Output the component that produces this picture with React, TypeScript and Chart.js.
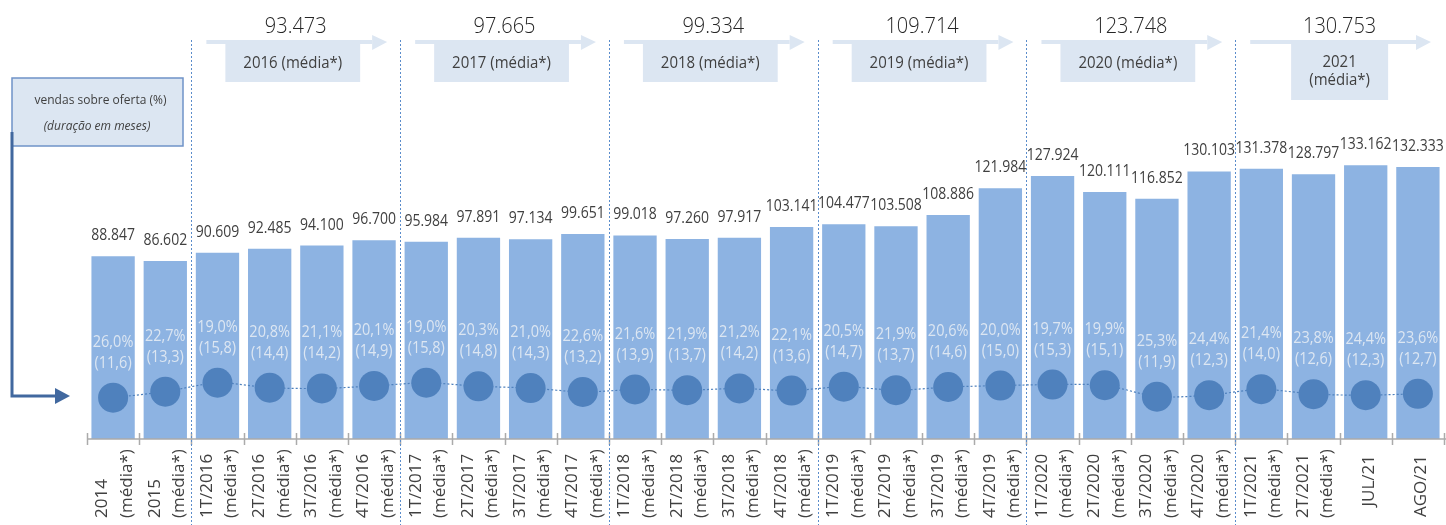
import { useEffect, useRef } from "react";
import { Chart, registerables } from "chart.js";

Chart.register(...registerables);

// ---------- data ----------
const categories: string[][] = [
  ["2014", "(média*)"],
  ["2015", "(média*)"],
  ["1T/2016", "(média*)"],
  ["2T/2016", "(média*)"],
  ["3T/2016", "(média*)"],
  ["4T/2016", "(média*)"],
  ["1T/2017", "(média*)"],
  ["2T/2017", "(média*)"],
  ["3T/2017", "(média*)"],
  ["4T/2017", "(média*)"],
  ["1T/2018", "(média*)"],
  ["2T/2018", "(média*)"],
  ["3T/2018", "(média*)"],
  ["4T/2018", "(média*)"],
  ["1T/2019", "(média*)"],
  ["2T/2019", "(média*)"],
  ["3T/2019", "(média*)"],
  ["4T/2019", "(média*)"],
  ["1T/2020", "(média*)"],
  ["2T/2020", "(média*)"],
  ["3T/2020", "(média*)"],
  ["4T/2020", "(média*)"],
  ["1T/2021", "(média*)"],
  ["2T/2021", "(média*)"],
  ["JUL/21"],
  ["AGO/21"],
];

const sales: number[] = [
  88847, 86602, 90609, 92485, 94100, 96700, 95984, 97891, 97134, 99651, 99018, 97260, 97917,
  103141, 104477, 103508, 108886, 121984, 127924, 120111, 116852, 130103, 131378, 128797,
  133162, 132333,
];

const salesOverSupply: number[] = [
  26.0, 22.7, 19.0, 20.8, 21.1, 20.1, 19.0, 20.3, 21.0, 22.6, 21.6, 21.9, 21.2, 22.1, 20.5, 21.9,
  20.6, 20.0, 19.7, 19.9, 25.3, 24.4, 21.4, 23.8, 24.4, 23.6,
];

const durationMonths: number[] = [
  11.6, 13.3, 15.8, 14.4, 14.2, 14.9, 15.8, 14.8, 14.3, 13.2, 13.9, 13.7, 14.2, 13.6, 14.7, 13.7,
  14.6, 15.0, 15.3, 15.1, 11.9, 12.3, 14.0, 12.6, 12.3, 12.7,
];

const yearLabels: string[][] = [
  ["2016 (média*)"],
  ["2017 (média*)"],
  ["2018 (média*)"],
  ["2019 (média*)"],
  ["2020 (média*)"],
  ["2021", "(média*)"],
];
const yearAverages: number[] = [93473, 97665, 99334, 109714, 123748, 130753];
const yearStartIndex: number[] = [2, 6, 10, 14, 18, 22];
const yearGroupSize = 4;

const legendLines: string[] = ["vendas sobre oferta (%)", "(duração em meses)"];

// ---------- helpers ----------
const FONT = '"Open Sans", "Noto Sans", sans-serif';

function fmtThousands(n: number): string {
  return String(n).replace(/\B(?=(\d{3})+(?!\d))/g, ".");
}
function fmtDec(v: number): string {
  return v.toFixed(1).replace(".", ",");
}

function drawText(
  ctx: CanvasRenderingContext2D,
  s: string,
  x: number,
  y: number,
  o: { font: string; color: string; align?: CanvasTextAlign; baseline?: CanvasTextBaseline; sy?: number; rot?: number }
) {
  ctx.save();
  ctx.translate(x, y);
  if (o.sy) ctx.scale(1, o.sy);
  if (o.rot) ctx.rotate(o.rot);
  ctx.font = o.font;
  ctx.fillStyle = o.color;
  ctx.textAlign = o.align || "center";
  ctx.textBaseline = o.baseline || "alphabetic";
  ctx.fillText(s, 0, 0);
  ctx.restore();
}

const decorPlugin = {
  id: "decor",
  afterDatasetsDraw(chart: any) {
    const ctx: CanvasRenderingContext2D = chart.ctx;
    const lineMeta = chart.getDatasetMeta(0);
    const barMeta = chart.getDatasetMeta(1);

    // values above bars
    barMeta.data.forEach((el: any, i: number) => {
      drawText(ctx, fmtThousands(sales[i]), el.x, el.y - 16, {
        font: `14px ${FONT}`,
        color: "#404040",
        sy: 1.14,
      });
    });

    // % and duration labels above points
    lineMeta.data.forEach((pt: any, i: number) => {
      drawText(ctx, fmtDec(salesOverSupply[i]) + "%", pt.x, pt.y - 51, {
        font: `14.5px ${FONT}`,
        color: "#dce6f2",
        sy: 1.12,
      });
      drawText(ctx, "(" + fmtDec(durationMonths[i]) + ")", pt.x, pt.y - 30, {
        font: `14.5px ${FONT}`,
        color: "#dce6f2",
        sy: 1.12,
      });
    });
  },
  afterDraw(chart: any) {
    const ctx: CanvasRenderingContext2D = chart.ctx;
    const xs = chart.scales.x;
    const area = chart.chartArea;
    const n = categories.length;
    const cw = (area.right - area.left) / n;
    const edge = (i: number) => xs.getPixelForValue(i) - cw / 2;
    const base = area.bottom;

    // axis line and tick marks
    ctx.save();
    ctx.strokeStyle = "#ababab";
    ctx.lineWidth = 1.5;
    ctx.beginPath();
    ctx.moveTo(edge(0), base);
    ctx.lineTo(chart.width, base);
    for (let i = 0; i <= n; i++) {
      const ex = Math.round(edge(i)) + 0.5;
      ctx.moveTo(ex, base - 6);
      ctx.lineTo(ex, base + 6);
    }
    ctx.stroke();
    ctx.restore();

    // x labels (rotated)
    categories.forEach((lines, i) => {
      const cx = xs.getPixelForValue(i);
      if (lines.length === 2) {
        drawText(ctx, lines[0], cx - 10.5, 518, {
          font: `17px ${FONT}`,
          color: "#404040",
          align: "left",
          baseline: "middle",
          rot: -Math.PI / 2,
        });
        drawText(ctx, lines[1], cx + 14, 518, {
          font: `17px ${FONT}`,
          color: "#404040",
          align: "left",
          baseline: "middle",
          rot: -Math.PI / 2,
        });
      } else {
        drawText(ctx, lines[0], cx + 3.5, 455, {
          font: `17px ${FONT}`,
          color: "#404040",
          align: "right",
          baseline: "middle",
          rot: -Math.PI / 2,
        });
      }
    });

    // dotted separators between years
    ctx.save();
    ctx.strokeStyle = "#5a8ccb";
    ctx.lineWidth = 1;
    ctx.setLineDash([2, 2]);
    yearStartIndex.forEach((s) => {
      const ex = Math.round(edge(s)) + 0.5;
      ctx.beginPath();
      ctx.moveTo(ex, 40);
      ctx.lineTo(ex, chart.height);
      ctx.stroke();
    });
    ctx.restore();

    // year headers: average number, arrow, box
    yearStartIndex.forEach((s, g) => {
      const L = edge(s);
      const R = edge(s + yearGroupSize);
      const C = (L + R) / 2;
      drawText(ctx, fmtThousands(yearAverages[g]), C, 33.3, {
        font: `300 20px ${FONT}`,
        color: "#262626",
        sy: 1.09,
      });
      ctx.save();
      ctx.fillStyle = "#dce6f2";
      ctx.fillRect(L + 15, 40, R - 28 - (L + 15), 4);
      ctx.beginPath();
      ctx.moveTo(R - 28, 35);
      ctx.lineTo(R - 13, 42);
      ctx.lineTo(R - 28, 50);
      ctx.closePath();
      ctx.fill();
      const lines = yearLabels[g];
      if (lines.length === 1) {
        ctx.fillRect(L + 34, 40, R - 40 - (L + 34), 42);
        ctx.restore();
        drawText(ctx, lines[0], (L + 34 + R - 40) / 2, 63, {
          font: `15px ${FONT}`,
          color: "#404040",
          baseline: "middle",
          sy: 1.08,
        });
      } else {
        ctx.fillRect(C - 48.5, 40, 97, 60);
        ctx.restore();
        drawText(ctx, lines[0], C, 62, { font: `15px ${FONT}`, color: "#404040", baseline: "middle", sy: 1.08 });
        drawText(ctx, lines[1], C, 80, { font: `15px ${FONT}`, color: "#404040", baseline: "middle", sy: 1.08 });
      }
    });

    // legend box + connector arrow
    ctx.save();
    ctx.fillStyle = "#dce6f2";
    ctx.fillRect(12, 78, 171, 68);
    ctx.strokeStyle = "#6f93c8";
    ctx.lineWidth = 1.5;
    ctx.strokeRect(12, 78, 171, 68);
    ctx.strokeStyle = "#41689f";
    ctx.lineWidth = 3;
    ctx.beginPath();
    ctx.moveTo(12, 132);
    ctx.lineTo(12, 396);
    ctx.lineTo(56, 396);
    ctx.stroke();
    ctx.fillStyle = "#41689f";
    ctx.beginPath();
    ctx.moveTo(55, 388);
    ctx.lineTo(70, 396);
    ctx.lineTo(55, 404);
    ctx.closePath();
    ctx.fill();
    ctx.restore();
    drawText(ctx, legendLines[0], 100.5, 100, { font: `12px ${FONT}`, color: "#404040", baseline: "middle", sy: 1.1 });
    drawText(ctx, legendLines[1], 97, 126, { font: `italic 12px ${FONT}`, color: "#404040", baseline: "middle", sy: 1.1 });
  },
};

export default function App() {
  const ref = useRef<HTMLCanvasElement>(null);
  useEffect(() => {
    const canvas = ref.current;
    if (!canvas) return;
    const chart = new Chart(canvas, {
      type: "bar",
      data: {
        labels: categories.map((c) => c.join(" ")),
        datasets: [
          {
            type: "line",
            label: "duração (meses)",
            data: durationMonths,
            yAxisID: "y1",
            order: 0,
            borderColor: "#4f81bd",
            borderWidth: 1.2,
            borderDash: [2, 2],
            tension: 0.25,
            pointRadius: 15,
            pointHoverRadius: 15,
            pointBackgroundColor: "#4f81bd",
            pointBorderWidth: 0,
            fill: false,
          } as any,
          {
            type: "bar",
            label: "vendas",
            data: sales,
            yAxisID: "y",
            order: 1,
            backgroundColor: "#8db3e2",
            barPercentage: 0.83,
            categoryPercentage: 1,
          } as any,
        ],
      },
      options: {
        responsive: false,
        animation: false,
        layout: { autoPadding: false, padding: { left: 87, right: 2, top: 110, bottom: 0 } },
        plugins: { legend: { display: false }, tooltip: { enabled: false } },
        scales: {
          x: {
            grid: { display: false },
            border: { display: false },
            ticks: { display: false },
            afterFit: (s: any) => {
              s.height = 86;
            },
          },
          y: { display: false, min: 0, max: 160000 },
          y1: { display: false, min: 0, max: 92.4, position: "right" },
        },
      } as any,
      plugins: [decorPlugin],
    });
    return () => chart.destroy();
  }, []);

  return (
    <div style={{ position: "absolute", left: 0, top: 0, width: 1446, height: 525, background: "#fff" }}>
      <canvas ref={ref} width={1446} height={525} style={{ display: "block" }} />
    </div>
  );
}
